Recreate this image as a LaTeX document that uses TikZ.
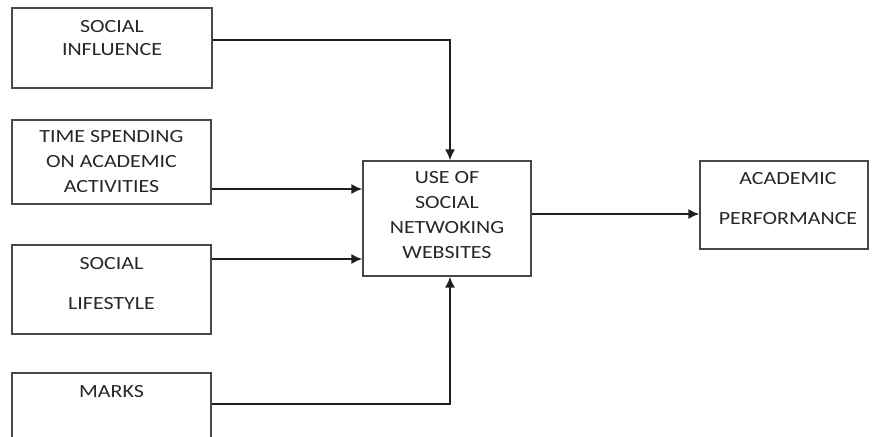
\documentclass[tikz,border=0pt]{standalone}
\usepackage{fontspec}
\setmainfont[FakeStretch=1.18]{Carlito}
\usepackage{tikz}
\usetikzlibrary{arrows.meta}
\usetikzlibrary{positioning}

\definecolor{boxgray}{HTML}{484848}
\definecolor{txtgray}{HTML}{262626}

\begin{document}
\begin{tikzpicture}[x=1pt,y=-1pt,
	every node/.style={align=center},
	box/.style={draw=boxgray,line width=1.4pt,inner sep=0pt},
	lbl/.style={text=txtgray,font={\fontsize{18.6}{25}\selectfont}},
	link/.style={draw=black!88,line width=1.5pt,-{Latex[length=11pt,width=10pt]}}]

	\clip (0,0) rectangle (872,436);

	% the boxes
	\node[box, minimum width=200pt, minimum height=80pt] (infl) at (112,48) {};
	\node[box, minimum width=199pt, minimum height=84pt] (time) at (111.5,162) {};
	\node[box, minimum width=199pt, minimum height=89pt] (life) at (111.5,289.5) {};
	\node[box, minimum width=199pt, minimum height=86pt] (marks) at (111.5,416) {};
	\node[box, minimum width=168pt, minimum height=115pt] (use) at (447,218.5) {};
	\node[box, minimum width=168pt, minimum height=88pt] (perf) at (784,205) {};

	% the texts
	\node[lbl, font={\fontsize{18.6}{23}\selectfont}] (infl-t) at (112,38.5) {SOCIAL\\INFLUENCE};
	\node[lbl] (time-t) at (111.5,161.5) {TIME SPENDING\\ON ACADEMIC\\ACTIVITIES};
	\node[lbl] (life-t) at (111.5,284) {SOCIAL\\[15pt]LIFESTYLE};
	\node[lbl] (marks-t) at (111.5,392) {MARKS};
	\node[lbl] (use-t) at (447,215) {USE OF\\SOCIAL\\NETWOKING\\WEBSITES};
	\node[lbl] (perf-t) at (788,199) {ACADEMIC\\[15pt]PERFORMANCE};

	% the arrows
	\draw[link] ([yshift=8pt]infl.east) -| ([xshift=3pt]use.north);
	\draw[link] ([yshift=-27pt]time.east) -- ([yshift=-27pt]time.east -| use.west);
	\draw[link] ([yshift=30.5pt]life.east) -- ([yshift=30.5pt]life.east -| use.west);
	\draw[link] ([yshift=12pt]marks.east) -| ([xshift=3pt]use.south);
	\draw[link] ([yshift=4.5pt]use.east) -- ([yshift=4.5pt]use.east -| perf.west);
\end{tikzpicture}
\end{document}
